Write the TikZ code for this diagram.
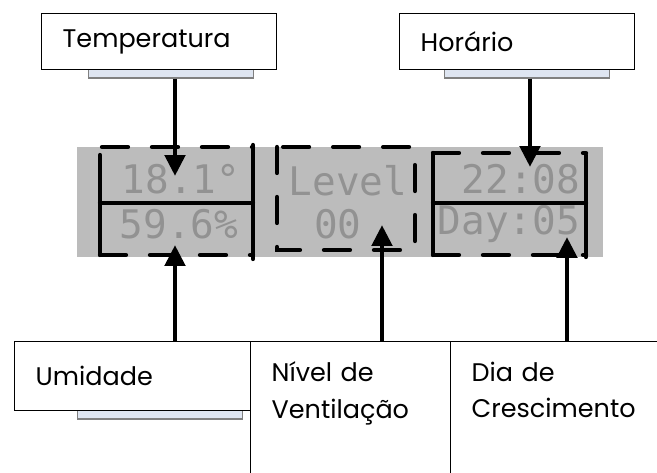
\documentclass[tikz,border=0pt]{standalone}
\usepackage{fontspec}
\setmainfont{Poppins}
\newfontfamily\lcdfont{DejaVu Sans Mono}
\usetikzlibrary{arrows.meta,calc,positioning}
\definecolor{lcdgrey}{RGB}{188,188,188}
\definecolor{lcdink}{RGB}{146,146,146}
\definecolor{shadowblue}{RGB}{222,229,241}
\tikzset{
	labelbox/.style = {draw, line width=0.8pt, fill=white, anchor=north west, align=left,
		inner xsep=0.42cm, font=\fontsize{14.5}{21}\selectfont},
	shadowbar/.style = {draw=gray, line width=0.6pt, fill=shadowblue, anchor=north west,
		minimum width=3.3cm, minimum height=0.19cm, inner sep=0pt},
	lcdtext/.style = {text=lcdink, font=\lcdfont\fontsize{22.4}{24}\selectfont, inner sep=0pt},
	frame/.style = {line width=2.4pt, line cap=round},
	dashframe/.style = {frame, dash pattern=on 0.52cm off 0.48cm},
	pointer/.style = {line width=2.8pt, -{Triangle[width=0.4cm,length=0.42cm]}}
}

\begin{document}
\begin{tikzpicture}[x=0.02cm, y=-0.02cm]
		\clip (0,0) rectangle (657,473);
		% display
		\fill[lcdgrey] (77,147) rectangle (603,257);
		\node[lcdtext] (temp) at (181,179) {18.1°};
		\node[lcdtext] (umid) at (179,224) {59.6\%};
		\node[lcdtext] (level) at (348,181) {Level};
		\node[lcdtext] (vent) at (338,224) {00};
		\node[lcdtext] (hora) at (521,179) {22:08};
		\node[lcdtext] (day) at (509,224) {Day:05};
		% dashed frames
		\draw[frame] (100,155) -- (100,255) (253,145) -- (253,259) (100,203) -- (253,203);
		\draw[dashframe] (102,147) -- (253,147) (100,255) -- (253,255);
		\draw[dashframe] (277,147) rectangle (415,250);
		\draw[frame] (433,153) -- (433,255) (586,155) -- (586,257) (433,203) -- (586,203);
		\draw[dashframe] (433,153) -- (586,153) (433,255) -- (586,255);
		% labels
		\node[shadowbar] (tempbar) at (88,68) {};
		\node[labelbox, text width=3.86cm, minimum height=1.12cm] (templabel) at (41,13) {Temperatura};
		\node[shadowbar] (horabar) at (444,68) {};
		\node[labelbox, text width=3.86cm, minimum height=1.12cm] (horalabel) at (399,13) {Horário};
		\node[shadowbar] (umidbar) at (77,409) {};
		\node[labelbox, text width=3.88cm, minimum height=1.38cm] (umidlabel) at (14,341) {Umidade};
		\node[labelbox, text width=3.16cm, inner ysep=0.4cm, text depth=2.2cm] (ventlabel) at (250,341) {Nível de\\Ventilação};
		\node[labelbox, text width=4.2cm, inner ysep=0.4cm, text depth=2.2cm] (daylabel) at (450,341) {Dia de\\Crescimento};
		% pointers
		\coordinate (tempTip) at (175,176);
		\coordinate (horaTip) at (530,167);
		\coordinate (umidTip) at (175,245);
		\coordinate (ventTip) at (382,225);
		\coordinate (dayTip) at (567,237);
		\draw[pointer] (tempbar.south -| tempTip) -- (tempTip);
		\draw[pointer] (horabar.south -| horaTip) -- (horaTip);
		\draw[pointer] (umidlabel.north -| umidTip) -- (umidTip);
		\draw[pointer] (ventlabel.north -| ventTip) -- (ventTip);
		\draw[pointer] (daylabel.north -| dayTip) -- (dayTip);
	\end{tikzpicture}
\end{document}
